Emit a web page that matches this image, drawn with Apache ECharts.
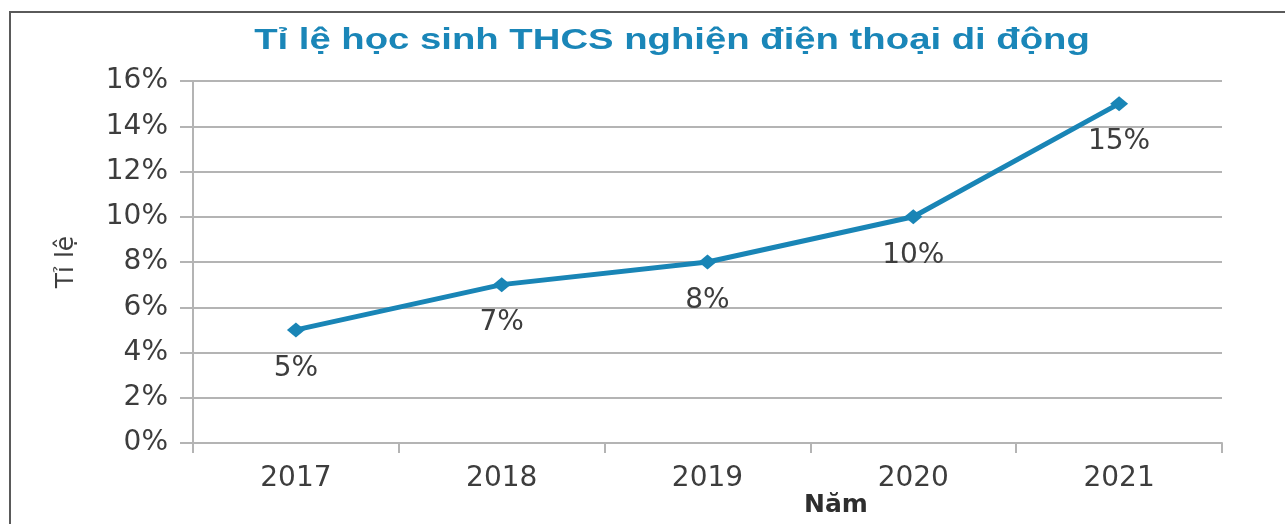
<!DOCTYPE html>
<html>
<head>
<meta charset="utf-8">
<title>Tỉ lệ học sinh THCS nghiện điện thoại di động</title>
<script src="https://cdn.jsdelivr.net/npm/echarts@6/dist/echarts.min.js"></script>
<style>
  html, body { margin: 0; padding: 0; background: #ffffff; }
  #chart { width: 1285px; height: 524px; }
</style>
</head>
<body>
<div id="chart"></div>
<script>
// Survey years and share of lower-secondary students addicted to phones (%)
const years = ['2017', '2018', '2019', '2020', '2021'];
const rates = [5, 7, 8, 10, 15];

const titleText = 'Tỉ lệ học sinh THCS nghiện điện thoại di động';
const yAxisName = 'Tỉ lệ';
const xAxisName = 'Năm';

const FONT = '"DejaVu Sans", Verdana, sans-serif';
const TITLE_FONT = '"Liberation Sans", Arial, sans-serif';
const TEXT = '#3d3d3d';
const GRID = '#b4b4b4';
const LINE = '#1985b6';

const chart = echarts.init(document.getElementById('chart'), null, { renderer: 'canvas' });

chart.setOption({
  backgroundColor: '#ffffff',
  animation: false,
  grid: { left: 193, right: 63, top: 81, bottom: 81, containLabel: false },
  xAxis: {
    type: 'category',
    data: years,
    boundaryGap: true,
    axisLine: { show: true, lineStyle: { color: GRID, width: 2 } },
    axisTick: { show: true, length: 10, alignWithLabel: false, lineStyle: { color: GRID, width: 2 } },
    axisLabel: { margin: 22, fontFamily: FONT, fontSize: 28, color: TEXT },
    splitLine: { show: false }
  },
  yAxis: {
    type: 'value',
    min: 0,
    max: 16,
    interval: 2,
    name: yAxisName,
    nameLocation: 'middle',
    nameGap: 114,
    nameRotate: 90,
    nameTextStyle: { fontFamily: FONT, fontSize: 25, color: TEXT },
    axisLine: { show: true, lineStyle: { color: GRID, width: 2 } },
    axisTick: { show: true, length: 13, lineStyle: { color: GRID, width: 2 } },
    axisLabel: { margin: 25, fontFamily: FONT, fontSize: 28, color: TEXT, formatter: '{value}%' },
    splitLine: { show: true, lineStyle: { color: GRID, width: 2 } }
  },
  series: [{
    type: 'line',
    data: rates,
    symbol: 'diamond',
    symbolSize: [18, 15],
    lineStyle: { color: LINE, width: 5 },
    itemStyle: { color: LINE },
    label: {
      show: true,
      position: 'bottom',
      distance: 17,
      formatter: '{c}%',
      fontFamily: FONT,
      fontSize: 28,
      color: TEXT
    }
  }],
  graphic: [
    {
      type: 'rect',
      shape: { x: 10, y: 12, width: 1300, height: 540 },
      style: { fill: 'none', stroke: '#5a5a5a', lineWidth: 2 },
      silent: true
    },
    {
      // chart title, set wide across the top
      type: 'text',
      x: 672,
      y: 41,
      scaleX: 1.32,
      style: {
        text: titleText,
        font: 'bold 29px ' + TITLE_FONT,
        fill: '#1a86b8',
        textAlign: 'center',
        textVerticalAlign: 'middle'
      },
      silent: true
    },
    {
      type: 'text',
      left: 804,
      top: 493,
      style: { text: xAxisName, font: 'bold 25px ' + FONT, fill: '#2e2e2e' },
      silent: true
    }
  ]
});
</script>
</body>
</html>
